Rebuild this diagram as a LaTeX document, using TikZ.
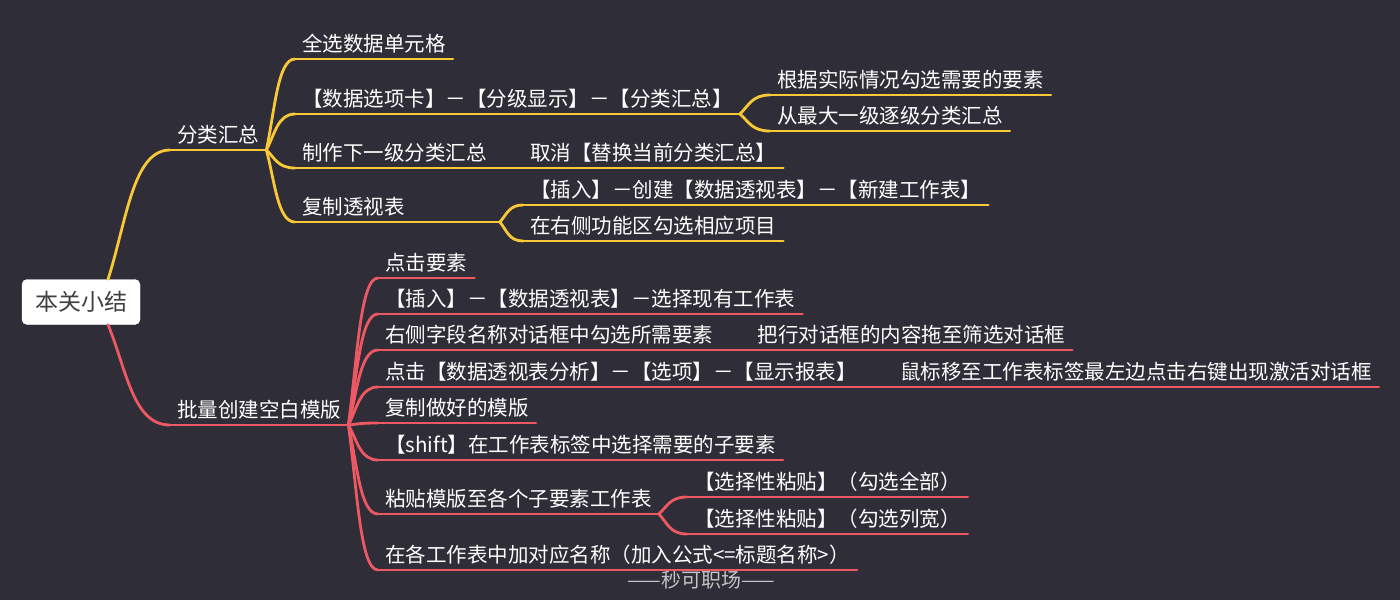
\documentclass[tikz,border=0pt]{standalone}
\usepackage{fontspec}
\usepackage{tikz}
\usetikzlibrary{calc,positioning}
\newfontfamily\cjk{Noto Sans CJK SC}
\definecolor{mapBack}{RGB}{47,46,56}
\definecolor{mapYellow}{RGB}{249,200,55}
\definecolor{mapRed}{RGB}{238,88,98}
\definecolor{rootText}{RGB}{64,64,64}
\definecolor{markGray}{RGB}{196,196,196}

\begin{document}
\begin{tikzpicture}[x=1pt,y=-1pt,
  topic/.style={anchor=south west,inner xsep=7pt,inner ysep=3pt,text height=16pt,text depth=4pt,text=white,font=\cjk\fontsize{20.5}{24}\selectfont},
  rootbox/.style={fill=white,draw=white,rounded corners=5pt,minimum width=118pt,minimum height=45pt,text=rootText,font=\cjk\fontsize{23}{26}\selectfont},
  ylwLine/.style={draw=mapYellow,line width=2.8pt,line cap=round},
  redLine/.style={draw=mapRed,line width=2.8pt,line cap=round},
  branch/.style={to path={let \p1=(\tikztostart),\p2=(\tikztotarget) in
    .. controls ({\x1+0.3*(\x2-\x1)},{\y1+0.45*(\y2-\y1)}) and ({\x2-0.6*(\x2-\x1)},\y2) .. (\tikztotarget)}}]
\path[use as bounding box,fill=mapBack] (0,0) rectangle (1400,600);

\node[rootbox] (root) at (81,302) {本关小结};

% 分类汇总
\node[topic] (sumTop) at (170,150) {分类汇总};
\node[topic] (sumA) at (295,59) {全选数据单元格};
\node[topic] (sumB) at (295,114) {【数据选项卡】－【分级显示】－【分类汇总】};
\node[topic] (sumC) at (295,168) {制作下一级分类汇总};
\node[topic] (sumD) at (295,222) {复制透视表};
\node[topic] (sumB1) at ($(sumB.south east)+(30,-19)$) {根据实际情况勾选需要的要素};
\node[topic] (sumB2) at ($(sumB.south east)+(30,17)$) {从最大一级逐级分类汇总};
\node[topic] (sumC1) at ($(sumC.south east)+(29,0)$) {取消【替换当前分类汇总】};
\coordinate (sumDfan) at ($(sumD.south east)+(88,0)$);
\node[topic] (sumD1) at ($(sumDfan)+(23,-17)$) {【插入】－创建【数据透视表】－【新建工作表】};
\node[topic] (sumD2) at ($(sumDfan)+(23,19)$) {在右侧功能区勾选相应项目};

% 批量创建空白模版
\node[topic] (tplTop) at (170,425) {批量创建空白模版};
\node[topic] (tplA) at (378,278) {点击要素};
\node[topic] (tplB) at (378,314) {【插入】－【数据透视表】－选择现有工作表};
\node[topic] (tplC) at (378,350) {右侧字段名称对话框中勾选所需要素};
\node[topic] (tplD) at (378,387) {点击【数据透视表分析】－【选项】－【显示报表】};
\node[topic] (tplE) at (378,423) {复制做好的模版};
\node[topic] (tplF) at (378,460) {【shift】在工作表标签中选择需要的子要素};
\node[topic] (tplG) at (378,514) {粘贴模版至各个子要素工作表};
\node[topic] (tplH) at (378,570) {在各工作表中加对应名称（加入公式<=标题名称>）};
\node[topic] (tplC1) at ($(tplC.south east)+(30,0)$) {把行对话框的内容拖至筛选对话框};
\node[topic] (tplD1) at ($(tplD.south east)+(29,0)$) {鼠标移至工作表标签最左边点击右键出现激活对话框};
\node[topic] (tplG1) at ($(tplG.south east)+(28,-17)$) {【选择性粘贴】（勾选全部）};
\node[topic] (tplG2) at ($(tplG.south east)+(28,20)$) {【选择性粘贴】（勾选列宽）};

\node[text=markGray,font=\cjk\fontsize{20}{24}\selectfont] (mark) at (701,580) {——秒可职场——};

% underlines
\foreach \kid in {sumTop,sumA,sumB,sumC,sumD,sumB1,sumB2,sumC1,sumD1,sumD2}
  \draw[ylwLine] (\kid.south west) -- (\kid.south east);
\foreach \kid in {tplTop,tplA,tplB,tplC,tplD,tplE,tplF,tplG,tplH,tplC1,tplD1,tplG1,tplG2}
  \draw[redLine] (\kid.south west) -- (\kid.south east);

% connectors
\draw[ylwLine] (root.40) to[branch] (sumTop.south west);
\foreach \kid in {sumA,sumB,sumC,sumD}
  \draw[ylwLine] (sumTop.south east) to[branch] (\kid.south west);
\foreach \kid in {sumB1,sumB2}
  \draw[ylwLine] (sumB.south east) to[branch] (\kid.south west);
\draw[ylwLine] (sumC.south east) -- (sumC1.south west);
\draw[ylwLine] (sumD.south east) -- (sumDfan);
\foreach \kid in {sumD1,sumD2}
  \draw[ylwLine] (sumDfan) to[branch] (\kid.south west);

\draw[redLine] (root.-40) to[branch] (tplTop.south west);
\foreach \kid in {tplA,tplB,tplC,tplD,tplE,tplF,tplG,tplH}
  \draw[redLine] (tplTop.south east) to[branch] (\kid.south west);
\draw[redLine] (tplC.south east) -- (tplC1.south west);
\draw[redLine] (tplD.south east) -- (tplD1.south west);
\foreach \kid in {tplG1,tplG2}
  \draw[redLine] (tplG.south east) to[branch] (\kid.south west);
\end{tikzpicture}
\end{document}
